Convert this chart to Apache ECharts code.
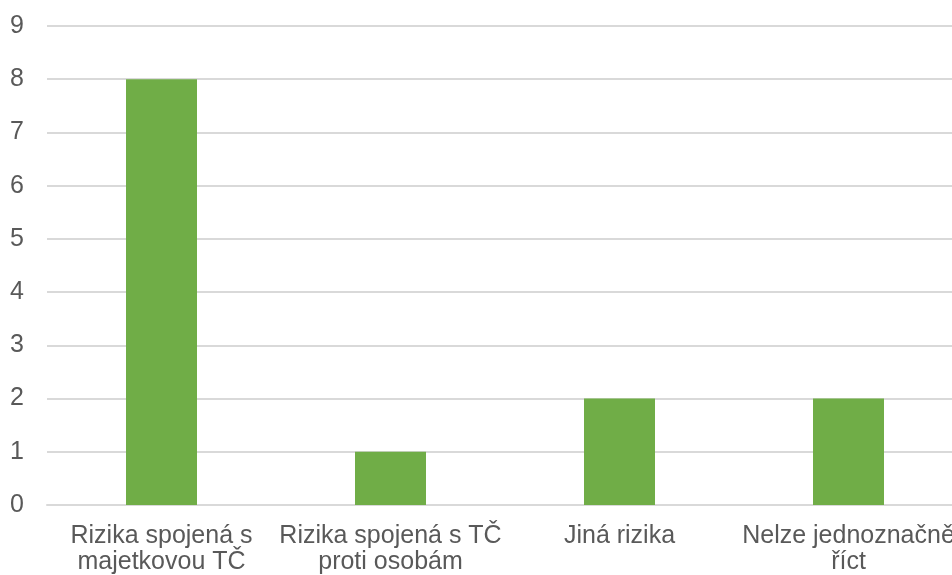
<!DOCTYPE html>
<html>
<head>
<meta charset="utf-8">
<script src="https://cdn.jsdelivr.net/npm/echarts@6/dist/echarts.min.js"></script>
<style>
html, body { margin: 0; padding: 0; background: #fff; overflow: hidden; }
#chart { width: 975px; height: 575px; }
</style>
</head>
<body>
<div id="chart"></div>
<script>
// kategorie a hodnoty
var categories = ['Rizika spojená s\nmajetkovou TČ', 'Rizika spojená s TČ\nproti osobám', 'Jiná rizika', 'Nelze jednoznačně\nříct'];
var values = [8, 1, 2, 2];

var chart = echarts.init(document.getElementById('chart'));
var option = {
	animation: false,
	grid: {
		top: 26,
		left: 47,
		right: 12,
		bottom: 69
	},
	xAxis: {
		type: 'category',
		data: categories,
		axisLine: {
			show: true,
			lineStyle: { color: '#d9d9d9', width: 2 }
		},
		axisTick: { show: false },
		axisLabel: {
			interval: 0,
			margin: 18,
			color: '#595959',
			fontSize: 25,
			lineHeight: 26,
			fontFamily: 'Liberation Sans, Arial, sans-serif'
		}
	},
	yAxis: {
		type: 'value',
		min: 0,
		max: 9,
		interval: 1,
		axisLine: { show: false },
		axisTick: { show: false },
		splitLine: {
			lineStyle: { color: '#d9d9d9', width: 2 }
		},
		axisLabel: {
			margin: 23,
			color: '#595959',
			fontSize: 25,
			fontFamily: 'Liberation Sans, Arial, sans-serif'
		}
	},
	series: [{
		type: 'bar',
		data: values,
		barWidth: 71,
		itemStyle: { color: '#70ad47' }
	}]
};
chart.setOption(option);
</script>
</body>
</html>
